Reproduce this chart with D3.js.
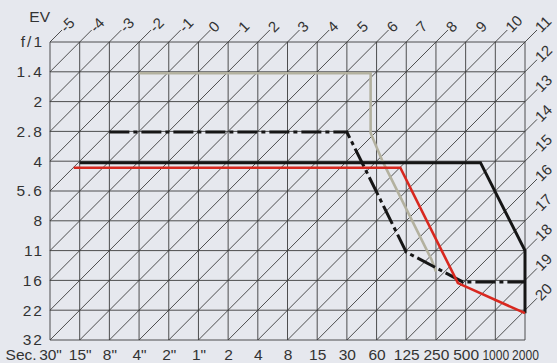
<!DOCTYPE html>
<html>
<head>
<meta charset="utf-8">
<script src="https://cdn.jsdelivr.net/npm/d3@7"></script>
</head>

<style>
body {
    margin: 0;
    background: #e6e8ee;
}
text {
    font-family: "Liberation Sans Narrow", "Liberation Sans", sans-serif;
    fill: #333;
}
</style>

<body>
    <svg id="canvas"></svg>
</body>

<script>

const width = 557, height = 363;

// tick labels
const shutterLabels = ['30"', '15"', '8"', '4"', '2"', '1"', '2', '4', '8', '15', '30', '60', '125', '250', '500', '1000', '2000'];
const apertureLabels = ['f/1', '1.4', '2', '2.8', '4', '5.6', '8', '11', '16', '22', '32'];
const evLabels = ['-5', '-4', '-3', '-2', '-1', '0', '1', '2', '3', '4', '5', '6', '7', '8', '9', '10', '11',
    '12', '13', '14', '15', '16', '17', '18', '19', '20'];

// program lines, as [shutter stop, aperture stop]
const grayLine = [[3, 1.05], [10.8, 1.05], [10.8, 3.05], [11.2, 4], [12.85, 7.3], [13, 7.7]];
const dashDotLine = [[2, 3.02], [10, 3.02], [12, 7.05], [13.9, 8.05], [16, 8.05]];
const blackLine = [[1, 4.05], [14.5, 4.05], [16, 7], [16, 9.1]];
const redLine = [[0.8, 4.22], [11.8, 4.22], [13.74, 8.09], [16, 9.1]];

const x = d3.scaleLinear().domain([0, shutterLabels.length - 1]).range([50, 525]);
const y = d3.scaleLinear().domain([0, apertureLabels.length - 1]).range([42, 340]);

const nx = shutterLabels.length - 1, ny = apertureLabels.length - 1;
const EXT = 12;

const svg = d3.select('svg#canvas')
    .attr('width', width)
    .attr('height', height);

svg.append('rect')
    .attr('width', width).attr('height', height)
    .attr('fill', '#e6e8ee');

const gridG = svg.append('g')
    .attr('stroke', '#3c3c3c')
    .attr('stroke-width', 0.9)
    .attr('fill', 'none');

// horizontal and vertical grid
gridG.selectAll('line.h').data(d3.range(ny + 1)).join('line')
    .attr('class', 'h')
    .attr('x1', x(0)).attr('x2', x(nx))
    .attr('y1', d => y(d)).attr('y2', d => y(d));

gridG.selectAll('line.v').data(d3.range(nx + 1)).join('line')
    .attr('class', 'v')
    .attr('y1', y(0)).attr('y2', y(ny))
    .attr('x1', d => x(d)).attr('x2', d => x(d));

// EV diagonals: shutter + aperture = constant
gridG.selectAll('line.d').data(d3.range(1, nx + ny)).join('line')
    .attr('class', 'd')
    .attr('x1', s => x(s - Math.min(s, ny)))
    .attr('y1', s => y(Math.min(s, ny)))
    .attr('x2', s => x(Math.min(s, nx)))
    .attr('y2', s => y(s - Math.min(s, nx)));

// extensions past the top and right edge, with EV labels
const evEnds = evLabels.map((label, s) => ({
    label,
    px: s <= nx ? x(s) : x(nx),
    py: s <= nx ? y(0) : y(s - nx)
}));

gridG.selectAll('line.e').data(evEnds).join('line')
    .attr('class', 'e')
    .attr('x1', d => d.px).attr('y1', d => d.py)
    .attr('x2', d => d.px + EXT).attr('y2', d => d.py - EXT);

svg.append('g').selectAll('text').data(evEnds).join('text')
    .attr('transform', d => `translate(${d.px + EXT + 0.5},${d.py - EXT - 0.5}) rotate(-45)`)
    .attr('dy', '0.36em')
    .attr('font-size', 15)
    .text(d => d.label);

svg.append('text')
    .attr('x', 50).attr('y', 22)
    .attr('text-anchor', 'end')
    .attr('font-size', 15.5)
    .text('EV');

// axes
const yAxis = svg.append('g')
    .attr('transform', `translate(${x(0)},0)`)
    .call(d3.axisLeft(y).tickValues(d3.range(ny + 1))
        .tickFormat(i => apertureLabels[i]).tickSize(0).tickPadding(6));
yAxis.select('.domain').remove();
yAxis.attr('font-family', null);
yAxis.selectAll('text')
    .attr('font-size', 15.5)
    .attr('letter-spacing', 2)
    .attr('fill', null);

const xAxis = svg.append('g')
    .attr('transform', `translate(0,${y(ny)})`)
    .call(d3.axisBottom(x).tickValues(d3.range(nx + 1))
        .tickFormat(i => shutterLabels[i]).tickSize(0).tickPadding(9));
xAxis.select('.domain').remove();
xAxis.attr('font-family', null);
xAxis.selectAll('text')
    .attr('font-size', 15.5)
    .attr('fill', null)
    .attr('transform', i => shutterLabels[i].length >= 4 ? 'scale(0.78,1)' : null);

const firstW = xAxis.select('.tick text').node().getComputedTextLength();
svg.append('text')
    .attr('x', x(0) - firstW / 2 - 2)
    .attr('y', y(ny) + 9)
    .attr('dy', '0.71em')
    .attr('text-anchor', 'end')
    .attr('font-size', 15.5)
    .text('Sec.');

// program lines
const line = d3.line().x(d => x(d[0])).y(d => y(d[1]));
const linesG = svg.append('g').attr('fill', 'none').attr('stroke-linejoin', 'miter');

linesG.append('path').datum(grayLine)
    .attr('d', line).attr('stroke', '#b3b19f').attr('stroke-width', 2.6);
linesG.append('path').datum(dashDotLine)
    .attr('d', line).attr('stroke', '#161616').attr('stroke-width', 3)
    .attr('stroke-dasharray', '20,4,4,4');
linesG.append('path').datum(blackLine)
    .attr('d', line).attr('stroke', '#161616').attr('stroke-width', 3);
linesG.append('path').datum(redLine)
    .attr('d', line).attr('stroke', '#d8281f').attr('stroke-width', 2.6);

</script>
</html>
